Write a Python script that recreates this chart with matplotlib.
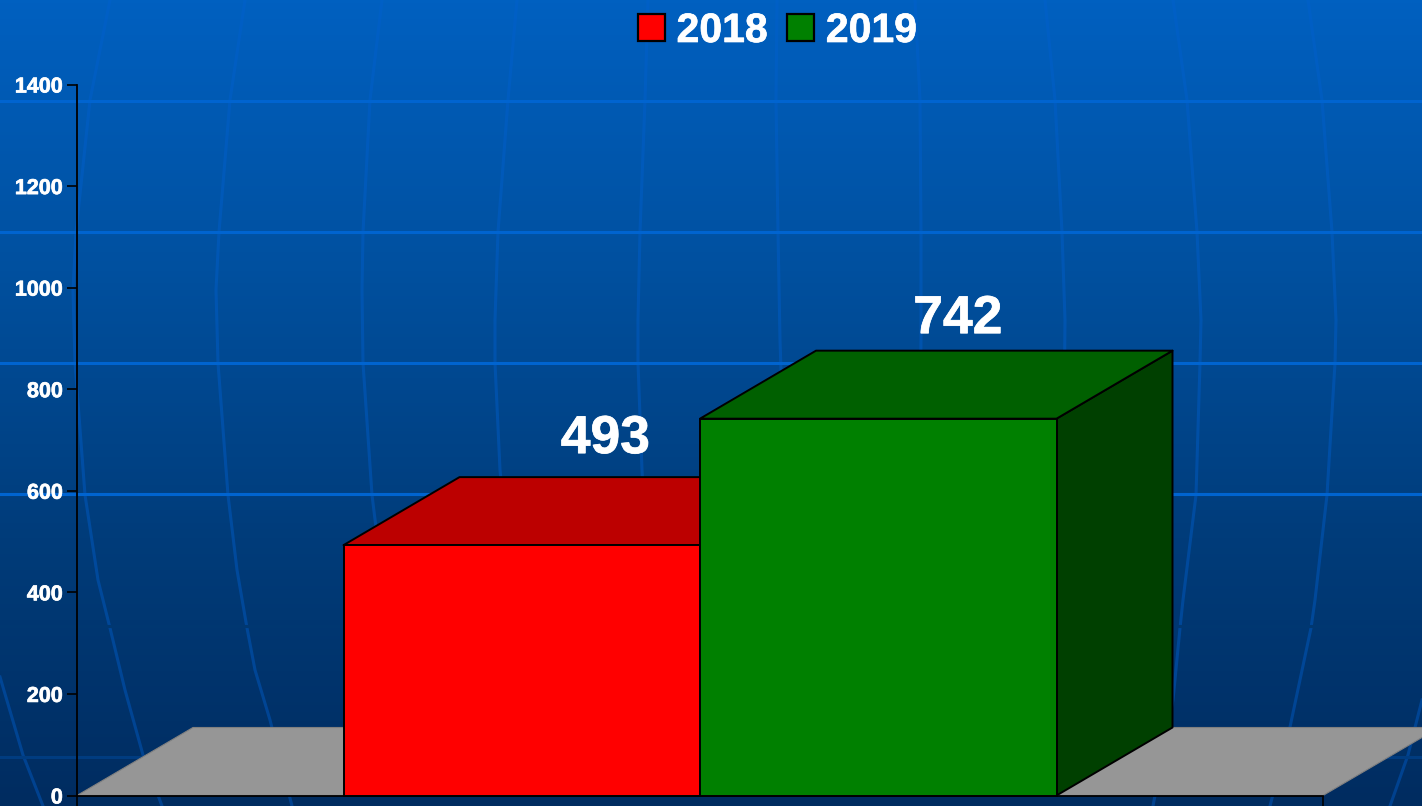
import numpy as np
import matplotlib
matplotlib.use('Agg')
import matplotlib.pyplot as plt
import matplotlib.patheffects as pe
from matplotlib.colors import LinearSegmentedColormap
from matplotlib.patches import Patch

plt.rcParams['font.family'] = ['Liberation Sans', 'DejaVu Sans']
plt.rcParams['font.weight'] = 'bold'

# data
years = ['2018', '2019']
values = [493, 742]
y_ticks = [0, 200, 400, 600, 800, 1000, 1200, 1400]

face_colors = ['#ff0000', '#008000']
top_colors = ['#bc0000', '#006000']
side_colors = ['#8c0000', '#004000']

# globe picture behind the chart, in image pixels (x, y)
globe_rows = [101, 232, 363, 494]
globe_cols = [
    [(110, 0), (90, 100), (76, 232), (73, 290), (75, 363), (85, 495), (98, 580), (110, 628), (125, 690), (143, 755), (162, 806)],
    [(245, 0), (230, 100), (219, 232), (216, 290), (218, 363), (228, 495), (237, 570), (247, 628), (255, 670), (270, 720), (292, 806)],
    [(382, 0), (370, 100), (363, 232), (362, 290), (363, 363), (372, 495), (380, 560)],
    [(517, 0), (508, 100), (498, 232), (495, 320), (495, 363), (500, 470), (506, 530)],
    [(648, 0), (645, 100), (640, 232), (638, 320), (638, 363), (642, 470), (645, 530)],
    [(777, 0), (776, 100), (778, 232), (780, 340), (782, 400)],
    [(915, 0), (920, 100), (921, 232), (921, 340), (920, 420)],
    [(1045, 0), (1055, 100), (1062, 232), (1065, 320), (1064, 420)],
    [(1173, 0), (1187, 100), (1197, 232), (1201, 320), (1200, 363), (1196, 495), (1183, 600), (1180, 628), (1173, 700), (1153, 806)],
    [(1308, 0), (1322, 100), (1332, 232), (1336, 320), (1335, 363), (1327, 495), (1315, 600), (1311, 628), (1290, 727), (1270, 806)],
    [(1422, 700), (1408, 755), (1390, 806)],
    [(0, 677), (23, 755), (43, 806)],
]

W, H = 1422, 806
fig = plt.figure(figsize=(W / 100, H / 100), dpi=100)
heavy = [pe.withStroke(linewidth=0.5, foreground='white')]

# background
bg = fig.add_axes([0, 0, 1, 1])
cmap = LinearSegmentedColormap.from_list('bg', ['#0060c0', '#00509f', '#003c7a', '#002c60'])
bg.imshow(np.linspace(0, 1, 256).reshape(-1, 1), cmap=cmap, aspect='auto', extent=[0, W, H, 0])
for col in globe_cols:
    xs = [p[0] for p in col]
    ys = [p[1] for p in col]
    bg.plot(xs, ys, color='#0060d0', alpha=0.42, lw=2.2, solid_joinstyle='round')
for r in globe_rows:
    bg.axhline(r, color='#0064d0', lw=2.2)
bg.axhline(626, color=cmap(626 / H), lw=2.2)
bg.axhline(757, color='#003c80', lw=2.2)
bg.set_xlim(0, W)
bg.set_ylim(H, 0)
bg.axis('off')

# chart area
ax = fig.add_axes([77 / W, 1 - 795.5 / H, 1246 / W, 711 / H])
ax.patch.set_alpha(0)
ax.set_xlim(0, 1)
ax.set_ylim(0, 1400)

dx = 116 / 1246
dy = 68 * 1400 / 711
bar_w = 356.5 / 1246
lefts = [0.5 - bar_w, 0.5]

# floor
ax.fill([0, dx, 1 + dx, 1], [0, dy, dy, 0], facecolor='#969696', edgecolor='#808080', lw=0.8,
        clip_on=False, zorder=1)

label_dx = [83.5, 79.5]
label_dy = [92, 85.5]
for i, v in enumerate(values):
    x0 = lefts[i]
    x1 = x0 + bar_w
    ax.fill([x1, x1 + dx, x1 + dx, x1], [0, dy, v + dy, v], facecolor=side_colors[i], edgecolor='k', lw=1.4,
            joinstyle='round', clip_on=False, zorder=2 + i)
    ax.fill([x0, x0 + dx, x1 + dx, x1], [v, v + dy, v + dy, v], facecolor=top_colors[i], edgecolor='k', lw=1.4,
            joinstyle='round', clip_on=False, zorder=2 + i)
    ax.bar(x0, v, width=bar_w, align='edge', color=face_colors[i], edgecolor='k', lw=1.4,
           clip_on=False, zorder=2 + i)
    ax.annotate(str(v), (x0 + bar_w / 2, v), xytext=(label_dx[i] * 0.72, label_dy[i] * 0.72),
                textcoords='offset points', ha='center', va='baseline', color='white', fontsize=38.5,
                fontweight='bold', zorder=10, annotation_clip=False, path_effects=heavy)

# axes
for s in ['top', 'right']:
    ax.spines[s].set_visible(False)
for s in ['left', 'bottom']:
    ax.spines[s].set_color('k')
    ax.spines[s].set_linewidth(1.3)
    ax.spines[s].set_zorder(1.5)
ax.set_yticks(y_ticks)
ax.set_xticks([0, 1])
ax.set_xticklabels(['', ''])
ax.tick_params(axis='both', length=7.2, width=1.2, color='k')
ax.tick_params(axis='y', labelcolor='white', labelsize=15.5, pad=3)
for t in ax.get_yticklabels():
    t.set_path_effects(heavy)

# legend
handles = [Patch(facecolor=face_colors[i], edgecolor='k', lw=1.6, label=years[i]) for i in range(2)]
leg = fig.legend(handles=handles, ncol=2, loc='center', bbox_to_anchor=(777.5 / W, 1 - 31 / H),
                 frameon=False, fontsize=29.5, handlelength=0.66, handleheight=0.66,
                 handletextpad=0.28, columnspacing=0.48, borderpad=0, borderaxespad=0)
for t in leg.get_texts():
    t.set_color('white')
    t.set_fontweight('bold')
    t.set_path_effects(heavy)

fig.savefig('out.png', dpi=100)
